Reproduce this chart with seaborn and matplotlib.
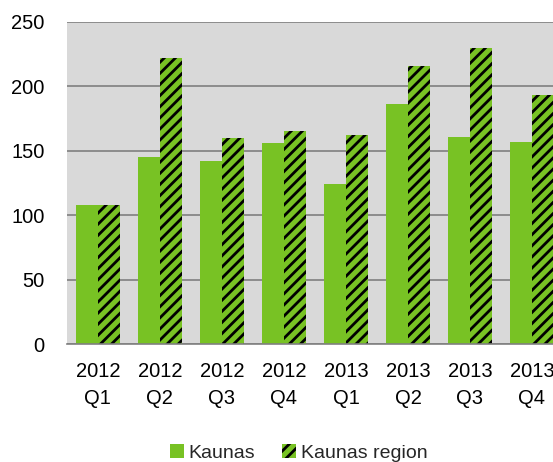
import matplotlib
matplotlib.use("Agg")
import matplotlib.pyplot as plt
import seaborn as sns
import pandas as pd

quarters = ["2012\nQ1", "2012\nQ2", "2012\nQ3", "2012\nQ4",
            "2013\nQ1", "2013\nQ2", "2013\nQ3", "2013\nQ4"]
kaunas = [108, 145, 142, 156, 124, 186, 161, 157]
kaunas_region = [108, 222, 160, 165, 162, 216, 230, 193]
series_names = ["Kaunas", "Kaunas region"]
y_ticks = [0, 50, 100, 150, 200, 250]

df = pd.DataFrame({
    "quarter": quarters * 2,
    "value": kaunas + kaunas_region,
    "series": [series_names[0]] * len(quarters) + [series_names[1]] * len(quarters),
})

sns.set_theme(style="white")
plt.rcParams["font.family"] = ["Liberation Sans", "DejaVu Sans"]
plt.rcParams["hatch.linewidth"] = 2.0
plt.rcParams["hatch.color"] = "black"

green = "#78c224"
fig = plt.figure(figsize=(5.53, 4.62), dpi=100)
ax = fig.add_axes([0.121, 0.2554, 0.879, 0.697])
ax.set_facecolor("#d9d9d9")

sns.barplot(data=df, x="quarter", y="value", hue="series", ax=ax,
            palette=[green, green], width=0.71, saturation=1,
            linewidth=0, legend=False)

for p in ax.containers[1]:
    p.set_hatch("///")
    p.set_edgecolor("black")
    p.set_linewidth(0)

ax.set_ylim(0, 250)
ax.set_xlim(-0.5, -0.5 + (553 - 67) / 62)
ax.set_yticks(y_ticks)
ax.yaxis.grid(True, color="#808080", linewidth=1.2)
ax.set_axisbelow(True)
for s in ["top", "right", "left"]:
    ax.spines[s].set_visible(False)
ax.spines["bottom"].set_color("#808080")
ax.spines["bottom"].set_linewidth(1.2)
ax.tick_params(axis="both", length=0, labelsize=14.5, colors="black")
ax.tick_params(axis="y", pad=16)
ax.tick_params(axis="x", pad=13)
for t in ax.get_xticklabels():
    t.set_linespacing(1.5)
ax.set_xlabel("")
ax.set_ylabel("")

handles = [ax.containers[0][0], ax.containers[1][0]]
fig.legend(handles, series_names, loc="center", bbox_to_anchor=(0.54, 0.02),
           ncol=2, frameon=False, fontsize=14, handlelength=0.7,
           handleheight=0.7, handletextpad=0.25, columnspacing=1.4)

fig.savefig("out.png", dpi=100)
